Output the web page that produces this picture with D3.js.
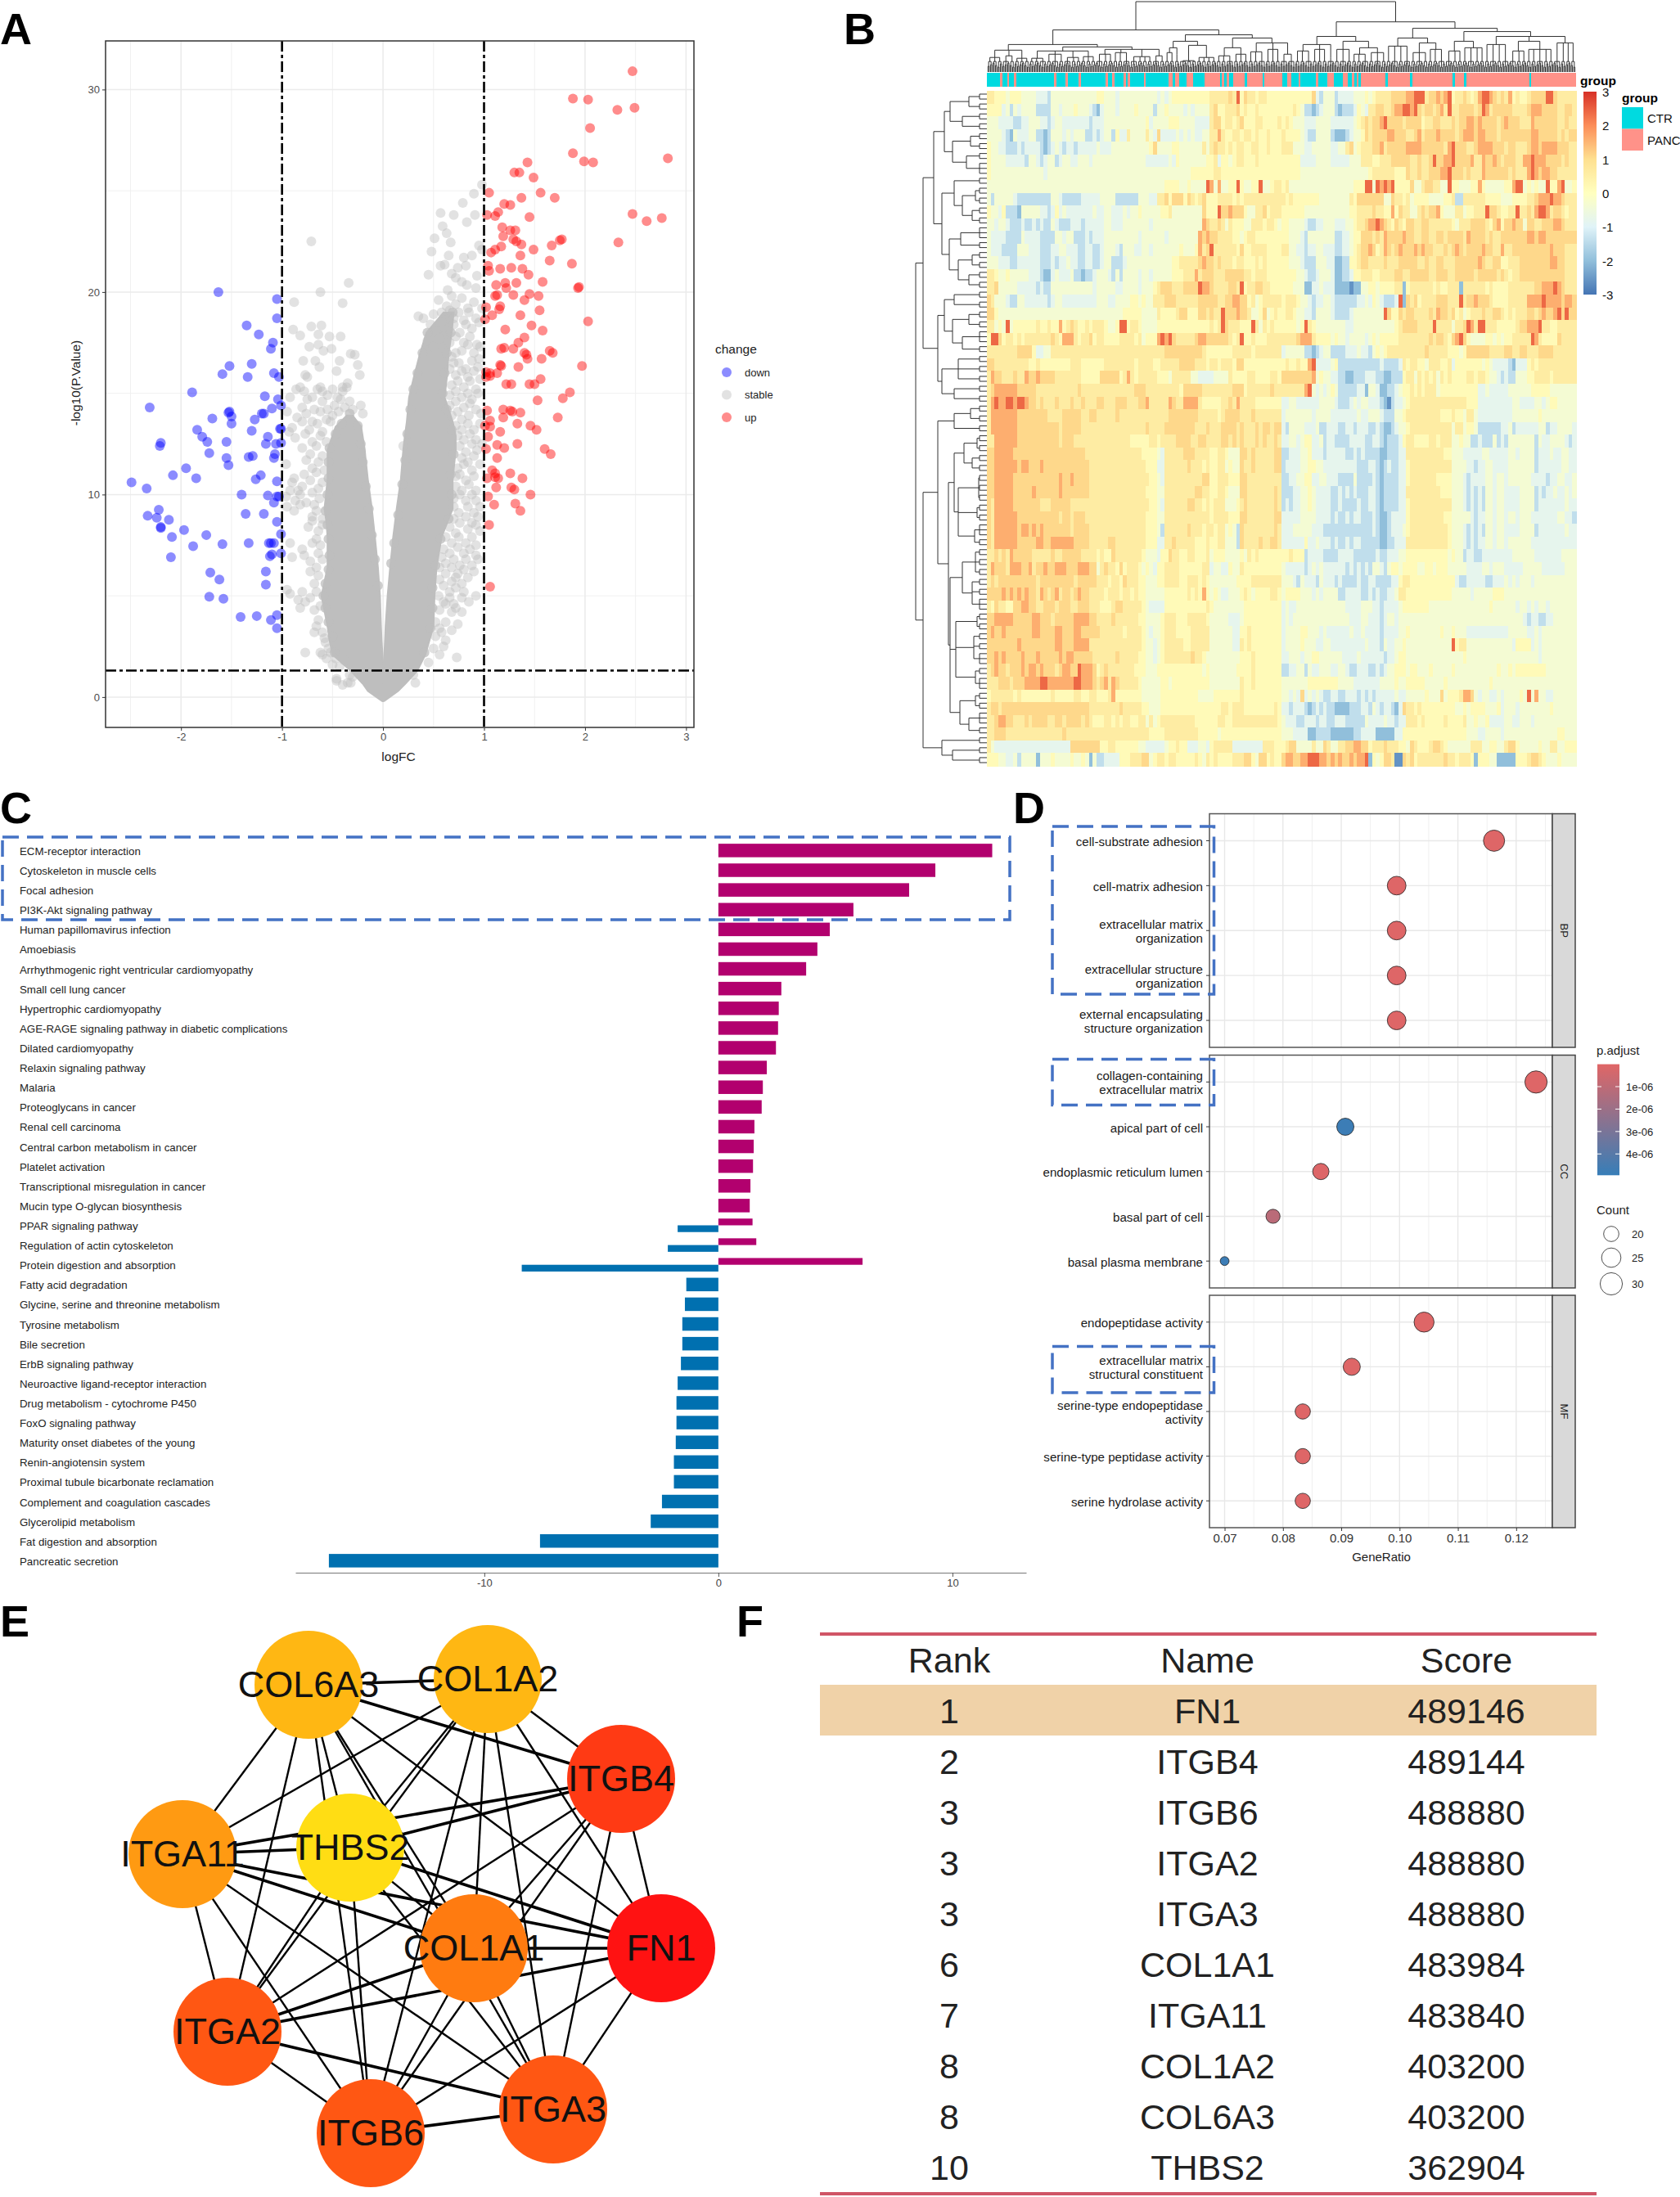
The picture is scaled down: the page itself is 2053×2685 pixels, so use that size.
<!doctype html>
<html lang="en">
<head>
<meta charset="utf-8">
<title>Differentially expressed genes in pancreatic cancer</title>
<script src="https://cdn.jsdelivr.net/npm/d3@7"></script>
<style>
  body { margin: 0; background: #fff; }
  svg { display: block; }
  text { font-family: "Liberation Sans", Arial, sans-serif; }
  .axis-a text { fill: #4d4d4d; font-size: 13px; }
  .axis-a line { stroke: #333; }
  .axis-a .domain { display: none; }
</style>
</head>
<body>
<svg id="fig" width="2053" height="2685"></svg>
<script>
// ---- panel A data: [logFC, -log10(P)]
var upPoints = [[2.47,30.9],[1.88,29.55],[2.03,29.5],[2.32,29],[2.49,29.1],[2.05,28.1],[1.88,26.85],[1.99,26.45],[2.08,26.4],[2.82,26.6],[1.43,26.4],[1.3,25.9],[1.35,25.9],[1.49,25.65],[1.56,24.9],[1.05,24.9],[1.37,24.65],[1.7,24.65],[1.2,24.35],[1.26,24.3],[1.14,23.95],[1.03,23.8],[1.11,23.75],[1.45,23.7],[2.47,23.85],[2.61,23.5],[2.76,23.65],[1.18,23.2],[1.26,23.05],[1.31,23.05],[1.19,22.75],[1.29,22.6],[1.32,22.5],[1.37,22.35],[1.77,22.6],[1.75,22.55],[1.67,22.3],[2.33,22.45],[1.17,22.25],[1.11,22.1],[1.07,21.95],[1.49,22.1],[1.36,21.8],[1.65,21.55],[1.87,21.4],[1.04,21.3],[1.05,21.05],[1.16,21.15],[1.27,21.2],[1.38,21.15],[1.44,20.85],[1.32,20.45],[1.12,20.35],[1.21,20.45],[1.22,20.2],[1.58,20.5],[1.93,20.2],[1.94,20.25],[1.45,19.9],[1.29,19.85],[1.13,19.85],[1.11,19.8],[1.4,19.6],[1.54,19.8],[1.55,19.1],[1.02,19.25],[1.16,19.3],[1.15,19.15],[1.08,18.85],[1.01,18.65],[1.36,18.85],[1.47,18.35],[2.03,18.55],[1.21,18.15],[1.58,18.1],[1.4,17.75],[1.34,17.5],[1.17,17.2],[1.2,17.25],[1.29,17.2],[1.4,17],[1.42,16.9],[1.43,16.7],[1.57,16.7],[1.65,17.1],[1.68,17],[1.16,16.4],[1.17,16.35],[1.06,16],[1.02,16.05],[1.02,15.8],[1.06,15.85],[1.13,16],[1.34,16.3],[1.97,16.35],[1.22,15.45],[1.27,15.45],[1.45,15.45],[1.5,15.45],[1.56,15.7],[1.85,15.05],[1.78,14.75],[1.53,14.65],[1.03,14.15],[1.19,14.2],[1.26,14.15],[1.28,14.1],[1.19,13.8],[1.36,14.05],[1.73,13.8],[1.06,13.65],[1.01,13.4],[1.33,13.5],[1.46,13.4],[1.52,13.2],[1.06,13.35],[1.16,13.1],[1.04,12.85],[1.13,12.45],[1.2,12.3],[1.33,12.5],[1.02,12.25],[1.6,12.25],[1.66,12],[1.13,11.8],[1.08,11.2],[1.11,11.05],[1.26,11.05],[1.38,10.8],[1.03,10.8],[1.11,10.85],[1.14,10.8],[1.12,10.35],[1.27,10.35],[1.3,10.25],[1.46,10],[1.04,9.9],[1.1,9.5],[1.31,9.55],[1.36,9.2],[1.05,8.5],[1.06,5.45]];
var downPoints = [[-1.63,20],[-1.05,19.65],[-1.05,18.7],[-1.35,18.35],[-1.23,17.9],[-1.09,17.5],[-1.11,17.2],[-1.3,16.45],[-1.52,16.35],[-1.59,15.95],[-1.34,15.8],[-1.08,16],[-1.03,15.8],[-1.89,15.05],[-1.17,14.85],[-1.04,14.7],[-2.31,14.3],[-1.01,14.4],[-1.1,14.25],[-1.52,14.1],[-1.53,14.05],[-1.18,14],[-1.2,14],[-1.5,13.85],[-1.69,13.75],[-1.27,13.7],[-1.5,13.5],[-1.02,13.25],[-1.01,13.25],[-1.84,13.2],[-1.3,13.15],[-1.79,12.85],[-1.14,12.85],[-1.74,12.6],[-2.2,12.55],[-2.21,12.4],[-1.55,12.6],[-1.16,12.5],[-1.06,12.5],[-1.01,12.55],[-1.72,12.05],[-1.07,12],[-1.29,11.9],[-1.33,11.85],[-1.55,11.8],[-1.08,11.8],[-1.53,11.45],[-1.95,11.3],[-2.08,10.95],[-1.85,10.8],[-1.21,10.95],[-1.26,10.75],[-1.05,10.65],[-2.49,10.6],[-2.34,10.3],[-1.4,10],[-1.14,9.95],[-1.05,9.9],[-1.03,9.9],[-1.08,9.6],[-2.22,9.25],[-2.33,8.95],[-2.24,8.85],[-2.12,8.75],[-1.36,9.05],[-1.18,9.05],[-1.05,8.65],[-2.2,8.4],[-2.2,8.35],[-1.97,8.25],[-2.09,7.9],[-1.75,8],[-1.01,8.05],[-1.59,7.55],[-1.88,7.45],[-1.33,7.6],[-1.13,7.6],[-1.11,7.6],[-1.08,7.6],[-1.01,7.1],[-1.1,7.05],[-1.12,6.95],[-2.1,6.9],[-1.71,6.15],[-1.16,6.2],[-1.62,5.8],[-1.16,5.55],[-1.72,4.95],[-1.58,4.85],[-1.41,3.95],[-1.25,4],[-1.05,4.05],[-1.11,3.8],[-1.05,3.4]];
var stablePoints = [[-.71,22.5],[-.34,20.45],[-.62,20],[-.88,19.5],[-.4,19.45],[-.89,18.15],[-.71,18.3],[-.61,18.35],[-.82,17.85],[-.64,17.9],[-.53,17.8],[-.42,17.8],[-.73,17.3],[-.64,17.4],[-.51,17.2],[-.59,17.1],[-.32,16.95],[-.28,16.9],[-.79,16.6],[-.67,16.6],[-.43,16.6],[-.25,16.4],[-.63,16.3],[-.46,16.1],[-.77,15.9],[-.75,15.8],[-.23,15.9],[-.86,15.2],[-.82,15.3],[-.65,15.2],[-.6,15.1],[-.4,15.3],[-.36,15.3],[-.92,14.8],[-.22,14.4],[-.95,14.1],[-.2,14],[-.93,13.1],[-.96,11.5],[-.88,10.8],[-.95,5.3],[-.64,3.8],[-.68,3.2],[-.77,2.2],[-.62,2.2],[-.57,2.7],[-.46,.8],[-.4,.6],[-.3,1],[-.35,.7],
  [.98,25.3],[.9,24.85],[.79,24.4],[.57,23.9],[.7,23.8],[.83,23.45],[.91,23.8],[.59,23.25],[.63,22.9],[.51,22.65],[.67,22.45],[.95,22.3],[.98,22.1],[.48,22],[.65,21.8],[.8,21.7],[.88,21.8],[.57,21.3],[.61,21.35],[.74,21.2],[.82,21.3],[.68,20.9],[.45,20.85],[.72,20.7],[.93,20.8],[.78,20.5],[.83,20.35],[.64,20.1],[.92,20.2],[.98,19.2],[.35,18.8],[.4,18.7],[.2,12.4],[.73,1.95],[.45,1.7],[.32,.7],[.3,1.1]];
// the looser band beside the mass
var stableBand = [[-.78,15.1],[-.7,14.8],[-.62,15.3],[-.55,14.9],[-.5,15.2],[-.45,14.8],[-.4,15.1],[-.35,15.5],[-.8,14.3],[-.75,14.7],[-.68,14.2],[-.6,14.6],[-.55,14.2],[-.48,14.4],[-.42,14.7],[-.38,14.3],[-.33,14.6],[-.3,14.2],[-.85,13.8],[-.76,14],[-.7,13.6],[-.62,14.1],[-.56,13.7],[-.5,13.9],[-.44,14.1],[-.9,13.3],[-.8,13.6],[-.73,13.2],[-.65,13.5],[-.6,13.1],[-.52,13.6],[-.87,12.8],[-.77,13],[-.7,12.6],[-.62,12.9],[-.56,12.6],[-.8,12.3],[-.72,12],[-.66,12.4],[-.6,11.9],[-.76,11.7],[-.7,11.3],[-.64,11.6],[-.58,11.2],[-.78,11],[-.72,10.7],[-.66,11.1],[-.6,10.6],[-.8,10.4],[-.9,10.6],[-.84,10.2],[-.7,10.1],[-.64,10.3],[-.96,9.9],[-.92,10.2],[-.87,9.7],[-.82,10],[-.76,9.6],[-.68,9.5],[-.63,9.8],[-.95,9.4],[-.88,9.2],[-.82,9.5],[-.7,8.9],[-.66,9.2],[-.6,8.8],[-.74,8.4],[-.7,8.7],[-.64,8.2],[-.6,8.5],[-.66,7.8],[-.62,7.5],[-.92,7.6],[-.8,7.3],[-.7,7.6],[-.64,7.1],[-.9,6.9],[-.78,7],[-.72,6.7],[-.66,6.4],[-.6,6.8],[-.72,6.2],[-.64,6],[-.68,5.6],[-.66,5.2],[-.92,5.1],[-.84,4.8],[-.8,5.2],[-.72,4.9],[-.82,4.4],[-.77,4.7],[-.68,4.3],[-.62,4.5],[-.66,3.5],[-.6,3.2],[-.58,2.9],[-.54,2.4],[-.6,2.1],[-.56,1.9],[-.52,2.2],[-.5,1.6],[-.47,1.9],[-.43,1.5],[-.38,1.8],[-.33,1.1],[-.46,.9],[-.32,.7],
  [.55,19.6],[.63,19.3],[.68,19.8],[.72,19.4],[.78,19.7],[.84,19.2],[.9,19.5],[.5,18.9],[.58,19],[.62,18.6],[.66,19.1],[.7,18.7],[.75,19],[.8,18.6],[.85,19],[.92,18.7],[.47,18.4],[.52,18.1],[.58,18.5],[.65,18.2],[.7,18.4],[.76,18],[.82,18.4],[.88,18.2],[.95,18.5],[.6,17.8],[.66,17.5],[.72,17.8],[.8,17.5],[.86,17.8],[.93,17.4],[.44,17.6],[.5,17.3],[.56,17.7],[.78,17.1],[.84,17.4],[.9,17],[.96,17.3],[.68,16.8],[.72,17],[.75,16.5],[.88,16.6],[.95,16.7],[.66,16.2],[.7,16.5],[.82,16.2],[.94,16.3],[.72,15.9],[.78,16.1],[.84,15.8],[.9,16.1],[.96,15.7],[.68,15.4],[.74,15.6],[.8,15.3],[.86,15.6],[.92,15.2],[.66,14.9],[.72,15.1],[.78,14.8],[.84,15],[.88,14.7],[.94,15],[.66,14.4],[.72,14.6],[.8,14.3],[.86,14.5],[.92,14.2],[.68,13.9],[.74,14.1],[.78,13.7],[.85,13.9],[.97,14],[.72,13.4],[.78,13.2],[.84,13.5],[.9,13.2],[.96,13.5],[.74,12.9],[.8,12.7],[.86,13],[.92,12.7],[.76,12.4],[.82,12.1],[.88,12.5],[.93,12.2],[.98,12.5],[.78,11.8],[.84,11.6],[.9,11.9],[.74,11.3],[.8,11.5],[.88,11.2],[.96,11.5],[.72,10.9],[.76,11],[.82,10.7],[.9,10.9],[.72,10.4],[.78,10.2],[.85,10.5],[.92,10.2],[.7,9.8],[.76,10],[.82,9.7],[.88,10],[.92,9.7],[.7,9.4],[.75,9.1],[.84,9.4],[.9,9.1],[.96,9.4],[.7,8.8],[.76,8.6],[.82,8.9],[.88,8.6],[.94,8.9],[.66,8.4],[.72,8.1],[.84,8.3],[.92,8.5],[.96,8.2],[.62,7.9],[.68,7.6],[.75,7.9],[.82,7.6],[.88,7.9],[.92,7.5],[.6,7.3],[.66,7.1],[.74,7.4],[.8,7.1],[.86,7.3],[.92,7],[.58,6.9],[.62,6.6],[.7,6.8],[.76,6.5],[.82,6.8],[.88,6.5],[.94,6.8],[.56,6.4],[.62,6.1],[.68,6.4],[.74,6.1],[.8,6.3],[.9,6.2],[.56,5.8],[.68,5.7],[.72,5.9],[.78,5.6],[.84,5.9],[.6,5.5],[.66,5.2],[.72,5.4],[.8,5.2],[.55,5],[.6,4.7],[.66,4.9],[.7,4.6],[.78,4.9],[.85,4.7],[.92,5],[.56,4.3],[.62,4.6],[.68,4.2],[.72,4.4],[.78,4.2],[.52,3.7],[.56,3.4],[.62,3.7],[.68,3.3],[.74,3.6],[.52,3],[.58,3.2],[.62,2.8],[.5,2.4],[.56,2.1],[.6,2.5]];
// points along the rim of the mass
var stableRim = [[-.48,2.2],[-.5,3],[-.54,3.7],[-.57,4.4],[-.59,5],[-.57,5.6],[-.54,6.3],[-.53,7],[-.54,7.8],[-.55,8.5],[-.57,9.2],[-.55,10],[-.54,10.8],[-.54,11.6],[-.53,12.3],[-.47,13],[-.41,13.5],[-.33,14],[-.05,5.5],[-.08,6.8],[-.11,8],[-.14,9.3],[-.17,10.4],[-.2,11.6],[-.22,12.5],[-.25,13.4],[.08,6.6],[.11,7.6],[.15,9],[.19,10.5],[.22,11.7],[.24,13],[.27,14.2],[.3,15.2],[.34,16],[.39,17],[.44,18],[.41,2.2],[.47,3.4],[.49,4.4],[.49,5.4],[.52,6.5],[.57,7.8],[.65,8.8],[.68,10],[.67,11],[.7,12],[.68,13.2],[.63,14.2],[.59,15],[.61,16],[.63,17],[.67,18],[.69,19]];
// the grey mass is too dense to read point by point, so it is read as an outline: [p, x from, x to]
var stableCoreLeft = [[-.2,-.01,0],[.3,-.15,0],[.65,-.2,0],[1.3,-.32,0],[2.1,-.5,-.005],[2.8,-.53,-.014],[3.5,-.55,-.02],[5,-.61,-.03],[5.7,-.58,-.04],[6.4,-.55,-.05],[7.9,-.55,-.08],[8.6,-.56,-.095],[9.3,-.58,-.11],[10.75,-.55,-.15],[11.9,-.55,-.175],[12.2,-.55,-.18],[13.35,-.47,-.216],[13.9,-.36,-.3]];
var stableCoreRight = [[-.2,0,.01],[.3,0,.15],[.65,0,.22],[1.3,0,.34],[2.1,.013,.42],[3.5,.025,.5],[5,.045,.51],[6.4,.07,.53],[7.9,.1,.58],[9.3,.135,.69],[10.75,.176,.69],[12.2,.2,.72],[12.9,.216,.72],[13.6,.235,.69],[14.8,.257,.61],[15.9,.31,.635],[16.95,.365,.65],[18,.43,.68],[19,.6,.7]];
var changeLabels = ["down", "stable", "up"];

// ---- panel B data: heatmap read as a grid of blocks, one digit per block
var heatLevels = [-2.6, -2, -1.4, -.8, -.35, .15, .6, 1.1, 1.6, 2.4];
var heatRows = [
"6655545554444 3332444444444 4445544434444 4444443434555 5555555666667 6957665665555 5555555573244 4233334445456 6667777889996 7787895667656 8998767685655 6777799766666",
"5555342434444 2222443444544 4321344434444 5444424454444 3434444675566 6756556555555 5556542212344 4212223543667 7667889989767 7678696677776 7986777776666 7888777766776",
"4443333223344 4332344333333 3233344444444 4445344445554 4443333677566 5675556655556 5654443334444 3333334567677 8977776777756 6776667677887 8777767877766 6877777766766",
"4444321433344 2212444343444 2232344253364 4446437333343 4343344668655 6656656556555 6555543224444 2111234457677 7788777667867 7787777678887 8877767777777 7887777767677",
"5443322232333 3212343233233 3334333444444 4444574444554 4444464676656 5665566556555 6664443344444 3344674566677 8677777888877 7777689777667 8888777677666 7887888877766",
"5444433333244 3234423443344 4344444444444 4443333334354 4444445563554 5665556555555 5555533334444 3333344466655 6667777766766 7977889777786 6877876777668 8988877776766",
"5444444444444 4434444444444 4444444444444 4444444444444 4455555566555 5555555555555 5555544444444 4444444444566 6666555766766 7778897776766 6877777767666 8987887766666",
"4444444444444 4444444444444 4444444444444 4444444455554 4544449848445 5954455944566 5644444444444 4444445559949 8989555574467 7664495544455 8544444558994 5454495589445",
"4244444322222 2222443222223 3333444422222 2444336675777 5765675556666 5656666666666 6565555555444 4444465777777 7447665645555 4444556226666 6655554445555 6678889887666",
"5443522214444 4332353433333 3343344333434 4544444556444 4444475559778 7775446675666 5555554444444 4444455666676 6558576644676 7785444664556 6697765566966 7689986776566",
"4434432223223 2322432223332 3333344333444 4444344444444 4444487667646 5554466656654 5544443223344 4333445667889 8765765776677 6666665466677 7765785778774 7766777887666",
"4333322224333 3222244344222 3233344444444 4344444434444 4444878776666 5545665555555 5544432444444 4223345577767 6877778776677 6677677776877 7767667777777 8878877777777",
"4333222244433 3222334433322 3322344432444 3344344444445 4445867966666 6575566665555 6644332334433 3223345677875 6876787778787 7666767876777 7877668667777 7777778777666",
"4443332233333 3222323343322 3322344222344 4444444444556 6666787767666 5665556565555 5544432224443 3112255677666 6766677777667 6677666777777 8766775566677 7777778877666",
"6654454444433 3211343334221 2234443242444 4344344444555 6668677766677 7776656665555 5555443223444 3112235566655 6666776677777 6677766777776 7777767656677 7777777777666",
"6674444433333 2322444444444 4434444433444 4344456777666 7777988766667 7695667766555 5554441133433 3111101144554 5555661566666 6565566616666 6656555566666 6677888987666",
"7644432244333 3332344333333 3334443344445 5454466677766 6666777776677 8877564566666 5666544323344 3222222334354 3222391767566 6677766696778 7776555566666 8888988887887",
"7754444444444 4444444444444 4444444444555 5544446555567 7555776766977 7877644574565 5665443324444 3222234444444 4975576776666 7687767564566 6766776565666 7767877897977",
"6645494555555 6556558567655 6566654459956 6544445555555 5555555656976 6655596465655 5555459654444 4444334444444 4444567777666 6966664667986 9966655555677 8889665566666",
"5997566565666 6666765888656 6756655556666 5645558989766 6667887777776 5695565556666 6666788865555 4544344443454 5555566666666 7677657897544 4455454556666 6986555576666",
"6666666677775 3344666666666 6666666666666 6666666677777 7777765555555 6666656666666 3444442212344 2222333433245 4566666666667 6666655545777 7776666776677 6667777666666",
"7766666666655 6555555556665 5555566666666 5666655666667 7776665665666 5775555555555 5655655893333 4522222222222 3222236566554 6665563555555 5454333321333 5656666666666",
"6877666766877 8777766666665 5555777775686 5666665554666 6644333344446 5555665555665 7777777784544 3322112223332 2112225664656 5646565555665 6654432322444 5566665666666",
"6788888877777 6666666666676 6666666666666 7776666666665 7777766666666 7775666666766 6666668943434 5422222331443 1122345565656 6645555555555 3343333344444 4555554444444",
"6898899899877 6766676667667 6667766677766 6778666668766 8888655555667 6866665555555 3344333333444 4322234344333 2102334566666 6666666666555 3333333334433 3344345544444",
"6888888877777 7776666777776 6776666676666 6666666667777 7777666665677 7766676666666 3444444434444 3333333433444 3222445666666 6665556554664 3333333334444 4445444444444",
"6888888877777 7777776777776 6666666666666 6667666677777 7776667666777 7676667677677 3244443334223 3322332333223 2112344566666 6666664664554 2222223342333 3334423344443",
"6688888877777 7777776777666 6666666666665 5555665666677 7766776666776 7676667676676 3344345533423 3222233332233 2122235665555 6656664454422 3222423244444 4424334444323",
"7788888777777 7777777777777 6666666666666 6655554366666 7776666556654 4477676666677 2233344533323 3333223232222 1122233666666 6666554443333 3443333344344 4423334334433",
"7788888878877 7877777777777 7666666666666 6665553366666 6766656556645 4476676666677 2333344554433 3333333222332 1232233566666 6666664444332 3344333344444 4423333334433",
"7788888777777 7777778778777 7666666666666 6666554366666 6666677556665 5577666666666 2233445533443 3322224222232 1222233566666 6655554443233 3344344344444 4333323344334",
"7788888777778 7777778777777 7666666666666 6665554466666 6667766556654 4477666666676 2223344543333 2232323222332 1222233666666 6665554443232 3244344333344 4423233433434",
"7688888777777 7666777776666 6666666666666 6666554366666 6776656566644 4567666666676 2323344543333 2232222322332 1222233566666 6666664443232 3244344333344 4423333333433",
"7688888877777 7777776776777 6666666666666 6665554466666 6666666566665 5577666666677 3333344443333 2322323322232 1123333566666 6666554444432 3344344344344 4333333344332",
"7688888878878 7877777776777 7666666666666 6665554266666 6766656656645 4276666666676 3334444433322 2222222222232 1123334566666 6666654443232 3244344333344 4423333333433",
"7688888877777 8877888888777 7666667766666 6665553366766 6665556556644 4276666766776 3333335334333 2322323322222 1122333666666 6666654443232 3344344344444 4333333333333",
"6676768777776 6666766777776 6665655766666 6654443557665 5665556455544 4454656555555 5565552333322 2233332222223 2233344555555 5555545442332 2333333334444 4433333334444",
"6877768887786 7787788877788 8774676657566 6545435566665 5555566344335 4465555555555 4333332343433 3333232323244 3245545555445 5455544444333 3443444333334 4444333333444",
"6767777777777 6777777777677 7776665665766 6554445566665 5666565444444 4555566666666 4443243332433 3232222322332 2223356655555 5555555322333 3322333434344 4344444444444",
"7777878787877 6876786776787 7666656665665 6554444455555 5656585454334 4456545555665 4555544434344 4422333322323 2233466555555 5555554444434 4444555444444 4444444444444",
"6576655778877 6677767776677 7666555677666 6654333355555 5555556544444 4445555555555 3433444444444 4444333344433 2333345555555 4444444444444 4445444444344 3434434444444",
"7788888777778 8777677777888 8776666766666 6554444566655 5666665444443 3345555555555 3434444444444 4444433344333 2344344444444 4444444444444 4444444444443 2332233444444",
"7877877777778 8777788777887 7777666666566 6654344566655 5566666444444 3355655555555 3444455444343 3333343343333 2333344544444 4445445444333 3333333344444 3343444444444",
"7777777787777 7777788777888 8666666666666 6654434566666 5566666444444 3365655555555 3444454443344 3333333334333 2433445444444 4444449566444 4444444443555 5343444444444",
"7787877778777 8777778788777 7766666676666 6554434566666 6676654444444 4455565555555 3344434455444 4443333433333 3233455444444 4444444445444 4444444444444 4443444444444",
"6787767778788 7877767887798 8875676666666 5554445555555 5555545444444 4555565555555 2233442433444 3344322333223 2344555455444 5444445444444 4444454454555 5555544444444",
"6667776777888 8998888888998 8876786876666 6544444554555 5555555444444 4465565555555 4444444555555 5544443333333 4444544555554 4444544444444 4445444444444 4444444444444",
"5666666565555 5555655555665 5665556855555 5544444555555 5555444455555 5565555555555 4434373434322 3322333232323 3333433444445 4447455568874 3443343444454 9484433444444",
"6776777777777 7777777777777 7666666667666 6655444555555 5555555555665 6665555555565 3323332123232 2111122233243 2332137665655 5555555445455 5544453444344 4444445444444",
"6678877666767 7776677677776 7655566565665 5664645666666 6665555556655 6666666666665 4333223332332 2333222224333 3433233666565 5555655556445 4453333443344 4344444444444",
"6677766666666 6666666766666 6666666666666 6666555566666 6666555554555 5555555555555 4443333112222 1111112233331 1111335555555 5555555555444 3344443444444 4444444455444",
"6433333333333 3333333337777 7777556655555 5443333345565 5333443566666 3333333366655 5677444464476 4466778877566 6766655476555 6776544444466 6445544677544 4445446644555",
"5554433424444 1444544445445 4142233335556 6677456656655 5556546565555 6667754775655 7887788999887 8787787889154 5776007675666 6666766566651 5554411111555 6776544454444"
];
// sample group along the top, run lengths, starting with CTR
var groupRuns = [6,1,2,1,2,1,17,1,4,1,5,1,11,1,2,1,4,1,1,1,6,1,10,2,1,2,3,3,5,7,1,1,1,1,2,5,1,7,1,8,2,2,3,1,7,1,4,3,4,2,2,1,1,1,1,11,1,10,1,18,1,4,1,28,1,20];
var groupNames = ["CTR", "PANC"];
var heatTicks = [3, 2, 1, 0, -1, -2, -3];
// dendrograms: [height, child, child...], a plain number is a bundle of that many small brackets
var pairHeights = [7, 9, 11, 8, 6, 10];
var topTree = [87,
  [52,
    [34,
      [27, [18,2,2,2], [20,3,2], [17,2,2,2]],
      [31,
        [26, [17,2,2,3], [22,2,3,2], [18,3,2,2], [19,2,2,2]],
        [28, [22,3,2,2], [24,2,2,3], [19,3,2,2,2], [20,3,2]]]],
    [46,
      [38, [30, [24,2,2], [22,2]], [33, [14,3,2,2], [18,2,2,2,2]]],
      [42, [30, [20,2,2,3], [22,2,2,2]], [36, [25,2,2,3], [28,2,2,2], [22,3,3]]]]],
  [62,
    [44, [34, [26,2,2,3], [28,2,2,2], [18,3]], [38, [28,2,3,2], [30, [22,2,2,3], [24,2,3,2]]]],
    [54,
      [42, [32,2,3,2,3], [36, [24,2,3,2], [28,2,2,3]]],
      [50, [38, [26,3,2,2], [30,2,3,2,2]], [44, [34,2,3,2,3], [38, [26,3,2,2], [28,2,2,3,2,2]], [36,3,2,2,2]]]]]];
var leftTree = [87,
  [78,
    [65,
      [52, [45, [22,2,2], [30, [15,2], 2]], [42, [20,2,2], [25,2,3]]],
      [55, [40, 2, [30, [14,2,2], [18,2,2]]], [46, [32,3,2], [35, [18,2,2], [22,2,2]]]]],
    [60, [52, [40,2,2], [42, [22,2,2], [30,3,2]]], [55, [35,2,2,2], [40,2,2]]]],
  [78,
    [60,
      [40, [20,2,2], [25,2]],
      [47,
        [40, [28, [12,2,2], [18,2,2]], [35, [10,2,2,2], [12,2,2], [15,3,2]]],
        [45, [30, [14,2,2,2], [18,2,2,3]], [38, [12,2,2], [16,2,2,3], [14,2,3]], [33, [14,2,2], [22,3,2]]]]],
    [55, [25,2], [42, [20,2], [28,2]]]]];

// ---- panel C data
var pathways = ["ECM-receptor interaction","Cytoskeleton in muscle cells","Focal adhesion","PI3K-Akt signaling pathway","Human papillomavirus infection","Amoebiasis","Arrhythmogenic right ventricular cardiomyopathy","Small cell lung cancer","Hypertrophic cardiomyopathy","AGE-RAGE signaling pathway in diabetic complications","Dilated cardiomyopathy","Relaxin signaling pathway","Malaria","Proteoglycans in cancer","Renal cell carcinoma","Central carbon metabolism in cancer","Platelet activation","Transcriptional misregulation in cancer","Mucin type O-glycan biosynthesis","PPAR signaling pathway","Regulation of actin cytoskeleton","Protein digestion and absorption","Fatty acid degradation","Glycine, serine and threonine metabolism","Tyrosine metabolism","Bile secretion","ErbB signaling pathway","Neuroactive ligand-receptor interaction","Drug metabolism - cytochrome P450","FoxO signaling pathway","Maturity onset diabetes of the young","Renin-angiotensin system","Proximal tubule bicarbonate reclamation","Complement and coagulation cascades","Glycerolipid metabolism","Fat digestion and absorption","Pancreatic secretion"];
var pathwayUp = [11.7,9.27,8.15,5.77,4.76,4.23,3.75,2.69,2.58,2.55,2.46,2.07,1.9,1.85,1.54,1.51,1.48,1.37,1.34,1.46,1.62,6.16,0,0,0,0,0,0,0,0,0,0,0,0,0,0,0];
var pathwayDown = [0,0,0,0,0,0,0,0,0,0,0,0,0,0,0,0,0,0,0,-1.74,-2.16,-8.4,-1.37,-1.43,-1.54,-1.54,-1.6,-1.74,-1.79,-1.79,-1.82,-1.9,-1.9,-2.41,-2.89,-7.62,-16.64];

// ---- panel D data
var facetNames = ["BP", "CC", "MF"];
var bpTerms = ["cell-substrate adhesion","cell-matrix adhesion","extracellular matrix\norganization","extracellular structure\norganization","external encapsulating\nstructure organization"];
var ccTerms = ["collagen-containing\nextracellular matrix","apical part of cell","endoplasmic reticulum lumen","basal part of cell","basal plasma membrane"];
var mfTerms = ["endopeptidase activity","extracellular matrix\nstructural constituent","serine-type endopeptidase\nactivity","serine-type peptidase activity","serine hydrolase activity"];
var bpRatio = [.1162,.0995,.0995,.0995,.0995];
var ccRatio = [.1234,.0907,.0865,.0783,.07];
var mfRatio = [.1042,.0918,.0834,.0834,.0834];
var bpCount = [28,24,24,24,24];
var ccCount = [30,22,21,19,17];
var mfCount = [26,22,20,20,20];
var bpPadj = [5e-8,5e-8,5e-8,5e-8,5e-8];
var ccPadj = [5e-8,4.8e-6,1e-7,1.1e-6,4.8e-6];
var mfPadj = [5e-8,5e-8,5e-8,5e-8,5e-8];
var padjTicks = [1e-6, 2e-6, 3e-6, 4e-6];
var countTicks = [20, 25, 30];

// ---- panels E and F data
var geneNames = ["FN1","ITGB4","ITGB6","ITGA2","ITGA3","COL1A1","ITGA11","COL1A2","COL6A3","THBS2"];
var geneRank = [1,2,3,3,3,6,7,8,8,10];
var geneScore = [489146,489144,488880,488880,488880,483984,483840,403200,403200,362904];
var geneColors = ["#ff1212","#ff3a14","#ff5713","#ff5713","#ff5713","#ff7b10","#ff9a12","#ffb713","#ffb713","#ffdd14"];
var geneLayoutX = [808,759,453,278,676,579,223,596,377,428];
var geneLayoutY = [2381,2174,2607,2483,2578,2381,2266,2052,2059,2258];
var heavyEdges = ["COL6A3-COL1A2","COL6A3-ITGB4","THBS2-ITGB4","ITGA11-ITGB4","ITGA11-THBS2","ITGA11-COL1A1","ITGA11-FN1","THBS2-FN1","COL1A1-FN1","ITGA2-FN1","ITGA2-COL1A1","ITGA2-ITGA3","ITGB6-ITGA3"];

var svg = d3.select("#fig");
var defs = svg.append("defs");
var blueBox = "#4472c4";

function panelLetter(txt, x, y) {
  svg.append("text").attr("x", x).attr("y", y).text(txt)
    .attr("font-size", 54).attr("font-weight", "bold").attr("fill", "#000");
}
panelLetter("A", 0, 54);
panelLetter("B", 1031, 54);
panelLetter("C", 0, 1006);
panelLetter("D", 1238, 1006);
panelLetter("E", 0, 2000);
panelLetter("F", 900, 2000);

function dashedBox(x, y, w, h) {
  svg.append("rect").attr("x", x).attr("y", y).attr("width", w).attr("height", h)
    .attr("fill", "none").attr("stroke", blueBox).attr("stroke-width", 3.5)
    .attr("stroke-dasharray", "20 10");
}

// ---------- A: volcano
(function () {
  var left = 129, right = 848, top = 50, bottom = 889;
  var x = d3.scaleLinear().domain([-2.747, 3.078]).range([left, right]);
  var y = d3.scaleLinear().domain([-1.5, 32.4]).range([bottom, top]);
  var g = svg.append("g");
  defs.append("clipPath").attr("id", "clipA").append("rect")
    .attr("x", left).attr("y", top).attr("width", right - left).attr("height", bottom - top);

  g.selectAll("line.minx").data([-2.5,-1.5,-.5,.5,1.5,2.5]).enter().append("line")
    .attr("x1", x).attr("x2", x).attr("y1", top).attr("y2", bottom).attr("stroke", "#f0f0f0");
  g.selectAll("line.miny").data([5,15,25]).enter().append("line")
    .attr("x1", left).attr("x2", right).attr("y1", y).attr("y2", y).attr("stroke", "#f0f0f0");
  g.selectAll("line.majx").data([-2,-1,0,1,2,3]).enter().append("line")
    .attr("x1", x).attr("x2", x).attr("y1", top).attr("y2", bottom).attr("stroke", "#ebebeb").attr("stroke-width", 1.5);
  g.selectAll("line.majy").data([0,10,20,30]).enter().append("line")
    .attr("x1", left).attr("x2", right).attr("y1", y).attr("y2", y).attr("stroke", "#ebebeb").attr("stroke-width", 1.5);

  var pts = g.append("g").attr("clip-path", "url(#clipA)");
  var core = d3.area().y(function (d) { return y(d[0]); })
    .x0(function (d) { return x(d[1]); }).x1(function (d) { return x(d[2]); });
  pts.selectAll("path").data([stableCoreLeft, stableCoreRight]).enter().append("path")
    .attr("d", core).attr("fill", "#bebebe").attr("stroke", "#bebebe").attr("stroke-width", 2);
  function dots(data, color, alpha) {
    pts.append("g").selectAll("circle").data(data).enter().append("circle")
      .attr("cx", function (d) { return x(d[0]); }).attr("cy", function (d) { return y(d[1]); })
      .attr("r", 6).attr("fill", color).attr("fill-opacity", alpha);
  }
  dots(stablePoints.concat(stableBand), "#bebebe", .45);
  dots(stableRim, "#bebebe", .75);
  dots(downPoints, "#0000ff", .45);
  dots(upPoints, "#ff0000", .45);

  [-1, 1].forEach(function (v) {
    g.append("line").attr("x1", x(v)).attr("x2", x(v)).attr("y1", top).attr("y2", bottom)
      .attr("stroke", "#000").attr("stroke-width", 2.6).attr("stroke-dasharray", "13 4 4 4");
  });
  g.append("line").attr("x1", left).attr("x2", right).attr("y1", y(1.31)).attr("y2", y(1.31))
    .attr("stroke", "#000").attr("stroke-width", 2.6).attr("stroke-dasharray", "13 4 4 4");

  g.append("rect").attr("x", left).attr("y", top).attr("width", right - left).attr("height", bottom - top)
    .attr("fill", "none").attr("stroke", "#333").attr("stroke-width", 1.5);
  g.append("g").attr("class", "axis-a").attr("transform", "translate(0," + bottom + ")")
    .call(d3.axisBottom(x).tickValues([-2,-1,0,1,2,3]).tickSize(4).tickFormat(d3.format("d")));
  g.append("g").attr("class", "axis-a").attr("transform", "translate(" + left + ",0)")
    .call(d3.axisLeft(y).tickValues([0,10,20,30]).tickSize(4));
  g.selectAll(".axis-a .tick text").attr("font-size", 13);
  g.selectAll(".axis-a text").text(function () { return d3.select(this).text().replace("\u2212", "-"); });

  g.append("text").attr("x", 487).attr("y", 930).attr("text-anchor", "middle").attr("font-size", 15.5).attr("fill", "#222").text("logFC");
  g.append("text").attr("transform", "translate(98,468) rotate(-90)").attr("text-anchor", "middle").attr("font-size", 15.5).attr("fill", "#222").text("-log10(P.Value)");

  g.append("text").attr("x", 874).attr("y", 432).attr("font-size", 15.5).attr("fill", "#222").text("change");
  var keyColors = ["#0000ff", "#bebebe", "#ff0000"];
  changeLabels.forEach(function (label, i) {
    var ky = 455 + i * 27.5;
    g.append("circle").attr("cx", 888).attr("cy", ky).attr("r", 6).attr("fill", keyColors[i]).attr("fill-opacity", .45);
    g.append("text").attr("x", 910).attr("y", ky + 4.5).attr("font-size", 13).attr("fill", "#222").text(label);
  });
})();

// ---------- B: heatmap
(function () {
  var left = 1206, right = 1926, top = 111, bottom = 936, groupLen = 13;
  var rows = heatRows.map(function (r) {
    return r.split(" ").map(function (s) { return s.padEnd(groupLen, s[s.length - 1]).slice(0, groupLen); }).join("");
  });
  var colCount = rows[0].length;
  var cx = d3.scaleBand().domain(d3.range(colCount)).range([left, right]);
  var cy = d3.scaleBand().domain(d3.range(rows.length)).range([top, bottom]);
  var color = d3.scaleLinear().domain([-3,-2,-1,0,1,2,3])
    .range(["#4575b4","#91bfdb","#e0f3f8","#ffffbf","#fee090","#fc8d59","#d73027"]);

  var cells = [];
  rows.forEach(function (r, i) {
    r.split("").forEach(function (ch, j) { cells.push({ row: i, col: j, value: heatLevels[+ch] }); });
  });
  svg.append("g").attr("shape-rendering", "crispEdges").selectAll("rect").data(cells).enter().append("rect")
    .attr("x", function (d) { return cx(d.col); }).attr("y", function (d) { return cy(d.row); })
    .attr("width", cx.bandwidth() + .5).attr("height", cy.bandwidth() + .5)
    .attr("fill", function (d) { return color(d.value); });

  // annotation bar
  var total = d3.sum(groupRuns);
  var ax = d3.scaleLinear().domain([0, total]).range([left, right]);
  var groupColor = d3.scaleOrdinal().domain(groupNames).range(["#00dae0", "#ff9289"]);
  var start = 0, runs = groupRuns.map(function (len, i) {
    var r = { from: start, to: start + len, group: groupNames[i % 2] };
    start += len;
    return r;
  });
  svg.append("g").attr("shape-rendering", "crispEdges").selectAll("rect").data(runs).enter().append("rect")
    .attr("x", function (d) { return ax(d.from); }).attr("width", function (d) { return ax(d.to) - ax(d.from); })
    .attr("y", 89).attr("height", 17).attr("fill", function (d) { return groupColor(d.group); });

  // dendrograms
  function tree(def, pairs) {
    var n = 0;
    var root = d3.hierarchy(def, function (d) {
      if (!Array.isArray(d)) return null;
      return d.slice(1).map(function (k) {
        if (typeof k !== "number") return k;
        if (!pairs) return [9].concat(d3.range(k).map(function () { return null; }));
        return [13].concat(d3.range(k).map(function () {
          return [pairHeights[n++ % pairHeights.length], null, null];
        }));
      });
    });
    var i = 0;
    root.eachAfter(function (node) {
      if (!node.children) { node.pos = i++; node.h = 0; }
      else { node.pos = (node.children[0].pos + node.children[node.children.length - 1].pos) / 2; node.h = node.data[0]; }
    });
    root.leafCount = i;
    return root;
  }
  function drawTree(root, px) {
    var d = "";
    root.descendants().forEach(function (n) {
      if (!n.children) return;
      var first = n.children[0], last = n.children[n.children.length - 1];
      d += "M" + px(first.pos, n.h) + "L" + px(last.pos, n.h);
      n.children.forEach(function (c) { d += "M" + px(c.pos, c.h) + "L" + px(c.pos, n.h); });
    });
    svg.append("path").attr("d", d).attr("fill", "none").attr("stroke", "#333").attr("stroke-width", 1);
  }
  var topRoot = tree(topTree, true);
  var tx = d3.scaleLinear().domain([0, topRoot.leafCount - 1]).range([left + 1.4, right - 1.4]);
  var th = d3.scaleLinear().domain([0, 87]).range([88, 2]);
  drawTree(topRoot, function (p, h) { return tx(p) + "," + th(h); });
  var leftRoot = tree(leftTree, false);
  var ly = d3.scaleLinear().domain([0, leftRoot.leafCount - 1]).range([top + 4, bottom - 4]);
  var lh = d3.scaleLinear().domain([0, 87]).range([left, 1119]);
  drawTree(leftRoot, function (p, h) { return lh(h) + "," + ly(p); });

  // colour bar
  var grad = defs.append("linearGradient").attr("id", "heatBar").attr("x1", 0).attr("x2", 0).attr("y1", 0).attr("y2", 1);
  d3.range(3, -3.01, -1).forEach(function (v) {
    grad.append("stop").attr("offset", (3 - v) / 6).attr("stop-color", color(v));
  });
  var barY = d3.scaleLinear().domain([3, -3]).range([112, 360]);
  svg.append("rect").attr("x", 1935).attr("y", 112).attr("width", 16).attr("height", 248).attr("fill", "url(#heatBar)");
  svg.selectAll("text.heat-tick").data(heatTicks).enter().append("text").attr("class", "heat-tick")
    .attr("x", 1958).attr("y", function (d) { return barY(d) + 6; }).attr("font-size", 15).attr("fill", "#111").text(function (d) { return d; });
  svg.append("text").attr("x", 1931).attr("y", 104).attr("font-size", 15.5).attr("font-weight", "bold").text("group");
  svg.append("text").attr("x", 1982).attr("y", 125).attr("font-size", 15.5).attr("font-weight", "bold").text("group");
  groupNames.forEach(function (n, i) {
    svg.append("rect").attr("x", 1982).attr("y", 131 + i * 26.5).attr("width", 26).attr("height", 26.5).attr("fill", groupColor(n));
    svg.append("text").attr("x", 2013).attr("y", 150 + i * 26.5).attr("font-size", 15).attr("fill", "#111").text(n);
  });
})();

// ---------- C: diverging bars
(function () {
  var rowH = 24.11, top = 1040.4 - rowH / 2;
  var y = d3.scaleBand().domain(pathways).range([top, top + rowH * pathways.length]);
  var x = d3.scaleLinear().domain([-18.07, 13.15]).range([361, 1254]);
  var thick = 16.5;
  var g = svg.append("g");

  g.selectAll("text.path").data(pathways).enter().append("text")
    .attr("x", 24).attr("y", function (d) { return y(d) + rowH / 2 + 4.5; })
    .attr("font-size", 13.3).attr("fill", "#222").text(function (d) { return d; });

  var bars = [];
  pathways.forEach(function (p, i) {
    var both = pathwayUp[i] !== 0 && pathwayDown[i] !== 0;
    if (pathwayUp[i] !== 0) bars.push({ name: p, value: pathwayUp[i], off: -thick / 2, h: both ? thick / 2 : thick, color: "#b2006e" });
    if (pathwayDown[i] !== 0) bars.push({ name: p, value: pathwayDown[i], off: both ? 0 : -thick / 2, h: both ? thick / 2 : thick, color: "#0070b0" });
  });
  g.selectAll("rect").data(bars).enter().append("rect")
    .attr("x", function (d) { return Math.min(x(0), x(d.value)); })
    .attr("width", function (d) { return Math.abs(x(d.value) - x(0)); })
    .attr("y", function (d) { return y(d.name) + rowH / 2 + d.off - 1; })
    .attr("height", function (d) { return d.h; })
    .attr("fill", function (d) { return d.color; });

  var axis = g.append("g").attr("transform", "translate(0,1922)")
    .call(d3.axisBottom(x).tickValues([-10, 0, 10]).tickSize(5).tickSizeOuter(0).tickFormat(d3.format("d")));
  axis.selectAll("line").attr("stroke", "#555");
  axis.select(".domain").attr("stroke", "#777");
  axis.selectAll("text").attr("font-size", 13).attr("fill", "#444")
    .text(function () { return d3.select(this).text().replace("\u2212", "-"); });

  dashedBox(3, 1023, 1231, 101);
})();

// ---------- D: dot plot
(function () {
  var left = 1478, stripLeft = 1897, right = 1925;
  var x = d3.scaleLinear().domain([.0674, .1262]).range([left, stripLeft]);
  var color = d3.scaleLinear().domain([0, 4.95e-6]).range(["#e06666", "#377eb8"]);
  var radius = d3.scaleLinear().domain([0, Math.sqrt(13)]).range([5.4, 13.6]);
  var facets = [
    { name: facetNames[0], terms: bpTerms, ratio: bpRatio, count: bpCount, padj: bpPadj, top: 994.5, bottom: 1280 },
    { name: facetNames[1], terms: ccTerms, ratio: ccRatio, count: ccCount, padj: ccPadj, top: 1289.5, bottom: 1574 },
    { name: facetNames[2], terms: mfTerms, ratio: mfRatio, count: mfCount, padj: mfPadj, top: 1583, bottom: 1867 }
  ];
  var major = [.07,.08,.09,.1,.11,.12];
  var minor = [.075,.085,.095,.105,.115,.125];

  facets.forEach(function (f) {
    var g = svg.append("g");
    var y = d3.scalePoint().domain(f.terms).range([f.top, f.bottom]).padding(.6);
    g.selectAll("line.minor").data(minor).enter().append("line")
      .attr("x1", x).attr("x2", x).attr("y1", f.top).attr("y2", f.bottom).attr("stroke", "#f0f0f0");
    g.selectAll("line.major").data(major).enter().append("line")
      .attr("x1", x).attr("x2", x).attr("y1", f.top).attr("y2", f.bottom).attr("stroke", "#e8e8e8").attr("stroke-width", 1.4);
    g.selectAll("line.row").data(f.terms).enter().append("line")
      .attr("x1", left).attr("x2", stripLeft).attr("y1", y).attr("y2", y).attr("stroke", "#e8e8e8").attr("stroke-width", 1.4);

    g.selectAll("circle").data(f.terms).enter().append("circle")
      .attr("cx", function (d, i) { return x(f.ratio[i]); }).attr("cy", y)
      .attr("r", function (d, i) { return radius(Math.sqrt(f.count[i] - 17)); })
      .attr("fill", function (d, i) { return color(f.padj[i]); })
      .attr("stroke", "#222").attr("stroke-width", .8);

    g.append("rect").attr("x", left).attr("y", f.top).attr("width", stripLeft - left).attr("height", f.bottom - f.top)
      .attr("fill", "none").attr("stroke", "#555").attr("stroke-width", 1.5);
    g.append("rect").attr("x", stripLeft).attr("y", f.top).attr("width", right - stripLeft).attr("height", f.bottom - f.top)
      .attr("fill", "#d9d9d9").attr("stroke", "#444").attr("stroke-width", 1.5);
    g.append("text").attr("transform", "translate(" + (stripLeft + 14) + "," + ((f.top + f.bottom) / 2) + ") rotate(90)")
      .attr("text-anchor", "middle").attr("y", 4.5).attr("font-size", 13).attr("fill", "#222").text(f.name);

    f.terms.forEach(function (t) {
      g.append("line").attr("x1", left - 4).attr("x2", left).attr("y1", y(t)).attr("y2", y(t)).attr("stroke", "#333");
      var lines = t.split("\n");
      lines.forEach(function (line, k) {
        g.append("text").attr("x", 1470).attr("y", y(t) + 6.5 + (k - (lines.length - 1) / 2) * 17)
          .attr("text-anchor", "end").attr("font-size", 15.1).attr("fill", "#1a1a1a").text(line);
      });
    });
  });

  var axis = svg.append("g").attr("transform", "translate(0,1867)")
    .call(d3.axisBottom(x).tickValues(major).tickSize(4).tickSizeOuter(0).tickFormat(d3.format(".2f")));
  axis.select(".domain").remove();
  axis.selectAll("line").attr("stroke", "#333");
  axis.selectAll("text").attr("font-size", 15).attr("fill", "#333");
  svg.append("text").attr("x", 1688).attr("y", 1908).attr("text-anchor", "middle").attr("font-size", 15).attr("fill", "#222").text("GeneRatio");

  // p.adjust legend
  var grad = defs.append("linearGradient").attr("id", "padjBar").attr("x1", 0).attr("x2", 0).attr("y1", 0).attr("y2", 1);
  grad.append("stop").attr("offset", 0).attr("stop-color", color(0));
  grad.append("stop").attr("offset", 1).attr("stop-color", color(4.95e-6));
  var barY = d3.scaleLinear().domain([0, 4.95e-6]).range([1300.6, 1436.3]);
  svg.append("text").attr("x", 1951).attr("y", 1289).attr("font-size", 15).attr("fill", "#222").text("p.adjust");
  svg.append("rect").attr("x", 1952).attr("y", 1300.6).attr("width", 27).attr("height", 135.7).attr("fill", "url(#padjBar)");
  padjTicks.forEach(function (t) {
    svg.append("line").attr("x1", 1952).attr("x2", 1957).attr("y1", barY(t)).attr("y2", barY(t)).attr("stroke", "#fff");
    svg.append("line").attr("x1", 1974).attr("x2", 1979).attr("y1", barY(t)).attr("y2", barY(t)).attr("stroke", "#fff");
    svg.append("text").attr("x", 1987).attr("y", barY(t) + 5).attr("font-size", 13).attr("fill", "#222").text(d3.format(".0e")(t).replace("e-6", "e-06"));
  });
  svg.append("text").attr("x", 1951).attr("y", 1484).attr("font-size", 15).attr("fill", "#222").text("Count");
  var keyY = [1508, 1537, 1569];
  countTicks.forEach(function (c, i) {
    svg.append("circle").attr("cx", 1969).attr("cy", keyY[i]).attr("r", radius(Math.sqrt(c - 17)))
      .attr("fill", "#fff").attr("stroke", "#222").attr("stroke-width", .8);
    svg.append("text").attr("x", 1994).attr("y", keyY[i] + 5).attr("font-size", 13).attr("fill", "#222").text(c);
  });

  dashedBox(1286, 1010, 197.5, 205);
  dashedBox(1286, 1294.5, 197.5, 56);
  dashedBox(1286, 1645.5, 197.5, 56.5);
})();

// ---------- E: network
(function () {
  var nodes = geneNames.map(function (n, i) {
    return { id: n, x: geneLayoutX[i], y: geneLayoutY[i], color: geneColors[i] };
  });
  var edges = [];
  nodes.forEach(function (a, i) {
    nodes.slice(i + 1).forEach(function (b) {
      var heavy = heavyEdges.indexOf(a.id + "-" + b.id) >= 0 || heavyEdges.indexOf(b.id + "-" + a.id) >= 0;
      edges.push({ a: a, b: b, heavy: heavy });
    });
  });
  var g = svg.append("g");
  g.selectAll("line").data(edges).enter().append("line")
    .attr("x1", function (d) { return d.a.x; }).attr("y1", function (d) { return d.a.y; })
    .attr("x2", function (d) { return d.b.x; }).attr("y2", function (d) { return d.b.y; })
    .attr("stroke", "#000").attr("stroke-width", function (d) { return d.heavy ? 3.6 : 2.4; });
  g.selectAll("circle").data(nodes).enter().append("circle")
    .attr("cx", function (d) { return d.x; }).attr("cy", function (d) { return d.y; })
    .attr("r", 66).attr("fill", function (d) { return d.color; });
  g.selectAll("text").data(nodes).enter().append("text")
    .attr("x", function (d) { return d.x; }).attr("y", function (d) { return d.y + 15; })
    .attr("text-anchor", "middle").attr("font-size", 45).attr("fill", "#111").text(function (d) { return d.id; });
})();

// ---------- F: ranking table
(function () {
  var left = 1002, right = 1951;
  var rowY = d3.scaleBand().domain(d3.range(geneNames.length)).range([2059, 2059 + 62 * 10]);
  var colX = [1160, 1475.5, 1792];
  var heads = ["Rank", "Name", "Score"];
  var g = svg.append("g");

  g.append("rect").attr("x", left).attr("y", rowY(0)).attr("width", right - left).attr("height", rowY.bandwidth()).attr("fill", "#f0d2a8");
  [1997, 2681].forEach(function (yy) {
    g.append("line").attr("x1", left).attr("x2", right).attr("y1", yy).attr("y2", yy).attr("stroke", "#d05566").attr("stroke-width", 4);
  });
  heads.forEach(function (h, i) {
    g.append("text").attr("x", colX[i]).attr("y", 2044).attr("text-anchor", "middle").attr("font-size", 43).attr("fill", "#222").text(h);
  });
  geneNames.forEach(function (n, i) {
    var cy = rowY(i) + rowY.bandwidth() / 2 + 16;
    [geneRank[i], n, geneScore[i]].forEach(function (v, j) {
      g.append("text").attr("x", colX[j]).attr("y", cy).attr("text-anchor", "middle").attr("font-size", 43).attr("fill", "#222").text(v);
    });
  });
})();
</script>
</body>
</html>
